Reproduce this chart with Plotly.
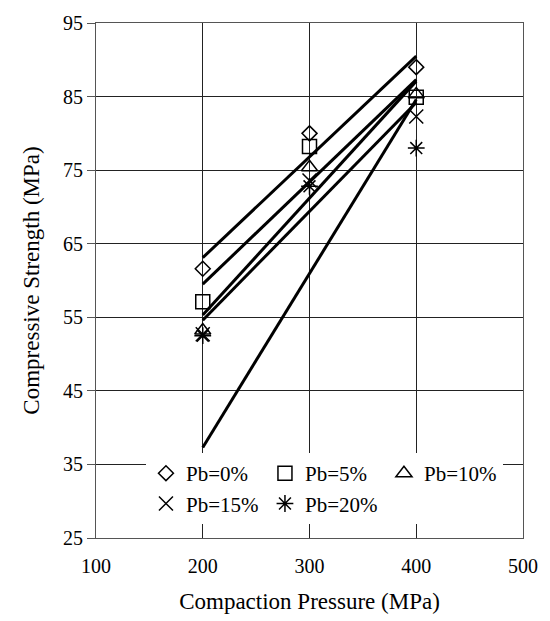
import plotly.graph_objects as go

# ---- data ----
pressure = [200, 300, 400]
series_names = ["Pb=0%", "Pb=5%", "Pb=10%", "Pb=15%", "Pb=20%"]
pb0 = [61.6, 80.0, 89.0]
pb5 = [57.1, 78.2, 84.9]
pb10 = [53.2, 75.4, 85.3]
pb15 = [52.7, 73.6, 82.3]
pb20 = [52.5, 72.8, 78.0]
values = [pb0, pb5, pb10, pb15, pb20]

# trendline values at the ends of the fitted range
trend_x = [200, 400]
trend_start = [63.1, 59.5, 55.3, 54.6, 37.3]
trend_end = [90.5, 87.3, 87.1, 84.2, 84.6]

x_ticks = [100, 200, 300, 400, 500]
y_ticks = [25, 35, 45, 55, 65, 75, 85, 95]

# ---- styles ----
symbols = ["diamond-open", "square-open", "triangle-up-open", "x-thin-open", "asterisk-open"]
sizes = [11.5, 14, 14, 14, 14]
FONT = "Liberation Serif"

fig = go.Figure()

for i, name in enumerate(series_names):
    fig.add_trace(go.Scatter(
        x=trend_x, y=[trend_start[i], trend_end[i]], mode="lines",
        line=dict(color="black", width=3), showlegend=False, hoverinfo="skip"))

for i, name in enumerate(series_names):
    fig.add_trace(go.Scatter(
        x=pressure, y=values[i], mode="markers", name=name,
        marker=dict(symbol=symbols[i], size=sizes[i], color="black",
                    line=dict(color="black", width=1.5))))

axis_common = dict(
    showgrid=True, gridcolor="#222", gridwidth=1,
    showline=True, linecolor="#555", linewidth=1, mirror=True,
    zeroline=False, tickcolor="#555",
    tickfont=dict(family=FONT, size=20, color="black"),
)

fig.update_xaxes(range=[100, 500], tickvals=x_ticks, ticks="", ticklabelstandoff=10,
                 title=dict(text="Compaction Pressure (MPa)", font=dict(family=FONT, size=23, color="black"), standoff=16),
                 **axis_common)
fig.update_yaxes(range=[25, 95], tickvals=y_ticks, ticks="outside", ticklen=8,
                 title=dict(text="Compressive Strength (MPa)", font=dict(family=FONT, size=23, color="black"), standoff=16),
                 **axis_common)

# small downward extension of the y axis line below the x axis (at x=100)
fig.add_shape(type="line", xref="x", yref="y", x0=x_ticks[0], x1=x_ticks[0],
              ysizemode="pixel", yanchor=y_ticks[0], y0=0, y1=-8,
              line=dict(color="#555", width=1))

fig.update_layout(
    width=550, height=621,
    margin=dict(l=96, r=25, t=16, b=79),
    paper_bgcolor="white", plot_bgcolor="white",
    font=dict(family=FONT, color="black"),
    legend=dict(orientation="h", x=0.117, y=0.165, xanchor="left", yanchor="top",
                bgcolor="white", borderwidth=0, entrywidth=74, entrywidthmode="pixels",
                font=dict(family=FONT, size=21, color="black"),
                itemsizing="trace", tracegroupgap=0),
    showlegend=True,
)

fig.write_html("out.html")
